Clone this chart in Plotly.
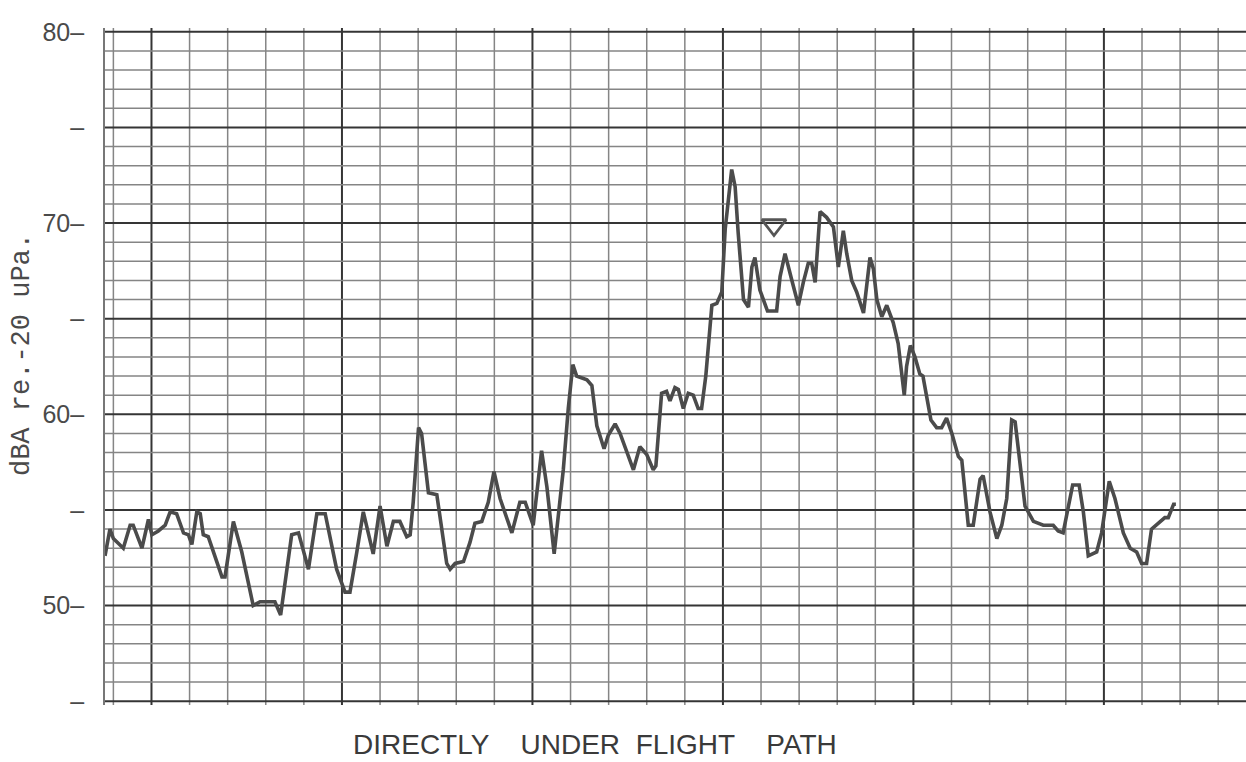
import plotly.graph_objects as go

# Sound level record (A-weighted), chart time in grid divisions
time_div = [
    -1.22, -1.09, -1.00, -0.74, -0.56, -0.48, -0.25, -0.08, 0.01, 0.18,
    0.36, 0.49, 0.66, 0.84, 0.97, 1.06, 1.19, 1.28, 1.36, 1.49,
    1.85, 1.93, 2.15, 2.37, 2.67, 2.85, 3.24, 3.39, 3.68, 3.86,
    4.12, 4.34, 4.56, 4.86, 5.08, 5.21, 5.39, 5.56, 5.82, 6.00,
    6.18, 6.35, 6.52, 6.70, 6.79, 6.87, 7.01, 7.09, 7.27, 7.49,
    7.75, 7.84, 7.97, 8.19, 8.36, 8.49, 8.67, 8.84, 8.99, 9.15,
    9.46, 9.67, 9.81, 10.02, 10.24, 10.38, 10.57, 10.68, 10.81, 10.94,
    11.06, 11.16, 11.29, 11.43, 11.56, 11.69, 11.88, 11.99, 12.17, 12.30,
    12.65, 12.82, 13.00, 13.17, 13.24, 13.39, 13.52, 13.61, 13.74, 13.83,
    13.96, 14.09, 14.22, 14.35, 14.44, 14.55, 14.71, 14.84, 14.97, 15.06,
    15.23, 15.32, 15.40, 15.54, 15.67, 15.76, 15.84, 15.97, 16.17, 16.41,
    16.50, 16.63, 16.81, 16.98, 17.11, 17.24, 17.33, 17.42, 17.55, 17.72,
    17.90, 18.03, 18.16, 18.25, 18.38, 18.51, 18.69, 18.77, 18.86, 18.95,
    19.04, 19.17, 19.30, 19.47, 19.60, 19.76, 19.82, 19.92, 20.04, 20.17,
    20.25, 20.46, 20.61, 20.74, 20.87, 21.01, 21.18, 21.27, 21.44, 21.57,
    21.75, 21.83, 22.01, 22.19, 22.32, 22.45, 22.58, 22.67, 22.80, 22.93,
    23.15, 23.41, 23.67, 23.80, 23.93, 24.07, 24.18, 24.35, 24.46, 24.59,
    24.81, 24.94, 25.14, 25.29, 25.51, 25.69, 25.86, 25.99, 26.12, 26.25,
    26.47, 26.60, 26.69, 26.83, 26.89,
]
level_dba = [
    52.6, 54.0, 53.5, 53.0, 54.2, 54.2, 53.0, 54.5, 53.7, 53.9,
    54.2, 54.9, 54.8, 53.8, 53.7, 53.2, 54.9, 54.8, 53.7, 53.6,
    51.5, 51.5, 54.4, 52.8, 50.0, 50.2, 50.2, 49.5, 53.7, 53.8,
    51.9, 54.8, 54.8, 51.9, 50.7, 50.7, 52.8, 54.9, 52.7, 55.2,
    53.1, 54.4, 54.4, 53.6, 53.7, 55.4, 59.3, 59.0, 55.9, 55.8,
    52.2, 51.9, 52.2, 52.3, 53.3, 54.3, 54.4, 55.4, 57.0, 55.6,
    53.8, 55.4, 55.4, 54.2, 58.1, 56.2, 52.7, 54.7, 57.1, 60.3,
    62.6, 62.0, 61.9, 61.8, 61.5, 59.4, 58.2, 58.9, 59.5, 59.0,
    57.1, 58.3, 57.9, 57.1, 57.3, 61.1, 61.2, 60.7, 61.4, 61.3,
    60.3, 61.1, 61.0, 60.3, 60.3, 62.0, 65.7, 65.8, 66.4, 69.7,
    72.8, 71.9, 69.5, 66.0, 65.6, 67.7, 68.2, 66.5, 65.4, 65.4,
    67.2, 68.4, 67.0, 65.7, 66.9, 67.9, 67.9, 66.9, 70.6, 70.3,
    69.8, 67.7, 69.6, 68.4, 67.0, 66.4, 65.3, 66.5, 68.2, 67.6,
    66.0, 65.1, 65.7, 64.8, 63.7, 61.0, 62.5, 63.6, 63.0, 62.1,
    62.0, 59.7, 59.3, 59.3, 59.8, 59.0, 57.8, 57.6, 54.2, 54.2,
    56.6, 56.8, 54.9, 53.5, 54.2, 55.6, 59.7, 59.6, 57.3, 55.2,
    54.4, 54.2, 54.2, 53.9, 53.8, 55.2, 56.3, 56.3, 54.9, 52.6,
    52.8, 53.8, 56.5, 55.6, 53.8, 53.0, 52.8, 52.2, 52.2, 54.0,
    54.4, 54.6, 54.6, 55.3, 55.3,
]

# Hand-drawn reference marker above the peak
marker_time = [16.34]
marker_level = [69.9]

# Left-axis labels (every 5 dB)
y_tick_vals = [45, 50, 55, 60, 65, 70, 75, 80]
y_tick_text = ["–", "50–", "–", "60–", "–", "70–", "–", "80–"]

# Chart-paper rulings: fine every unit, heavy every 5 units
x_range = [-1.22, 28.73]
y_range = [44.8, 80.2]
x_rulings = list(range(-1, 29))
y_rulings = list(range(45, 81))

ink = "#4b4b4b"
major_grid = "#353535"
minor_grid = "#858585"

fig = go.Figure()

shapes = []
for xv in x_rulings:
    heavy = xv % 5 == 0
    shapes.append(dict(type="line", xref="x", yref="paper", x0=xv, x1=xv,
                       y0=0, y1=1, layer="below",
                       line=dict(color=major_grid if heavy else minor_grid,
                                 width=2.0 if heavy else 1.5)))
for yv in y_rulings:
    heavy = yv % 5 == 0
    shapes.append(dict(type="line", xref="paper", yref="y", x0=0, x1=1,
                       y0=yv, y1=yv, layer="below",
                       line=dict(color=major_grid if heavy else minor_grid,
                                 width=2.0 if heavy else 1.5)))

fig.add_trace(go.Scatter(
    x=time_div, y=level_dba, mode="lines",
    line=dict(color=ink, width=3.6),
    hoverinfo="skip", showlegend=False,
))

fig.add_trace(go.Scatter(
    x=marker_time, y=marker_level, mode="markers",
    marker=dict(symbol="triangle-down-open", size=21, color="#555555",
                line=dict(color="#555555", width=2.8)),
    hoverinfo="skip", showlegend=False,
))

fig.update_layout(
    width=1246, height=762,
    margin=dict(l=105, r=0, t=28, b=57),
    paper_bgcolor="white", plot_bgcolor="white",
    font=dict(family="Liberation Sans, Arial, sans-serif", color="#444444"),
    shapes=shapes,
    xaxis=dict(
        range=x_range, showticklabels=False, ticks="",
        showgrid=False, zeroline=False, showline=False,
    ),
    yaxis=dict(
        range=y_range,
        tickmode="array", tickvals=y_tick_vals, ticktext=y_tick_text,
        ticks="", ticklabelstandoff=14,
        tickfont=dict(size=25, color="#4a4a4a",
                      family="Liberation Sans, Arial, sans-serif"),
        showgrid=False, zeroline=False,
        showline=True, linecolor="#777777", linewidth=1.6,
    ),
    annotations=[
        dict(text="dBA re.-20 uPa.", textangle=-90,
             xref="paper", yref="paper", x=-0.0727, y=0.517,
             xanchor="center", yanchor="middle", showarrow=False,
             font=dict(family="Liberation Mono, DejaVu Sans Mono, monospace",
                       size=27, color="#4a4a4a")),
        dict(text="DIRECTLY\u00a0\u00a0\u00a0\u00a0UNDER\u00a0\u00a0FLIGHT\u00a0\u00a0\u00a0\u00a0PATH",
             xref="paper", yref="paper", x=0.4295, y=-0.059,
             xanchor="center", yanchor="middle", showarrow=False,
             font=dict(family="Liberation Sans, Arial, sans-serif",
                       size=28, color="#3a3a3a")),
    ],
)

fig.write_html("out.html")
